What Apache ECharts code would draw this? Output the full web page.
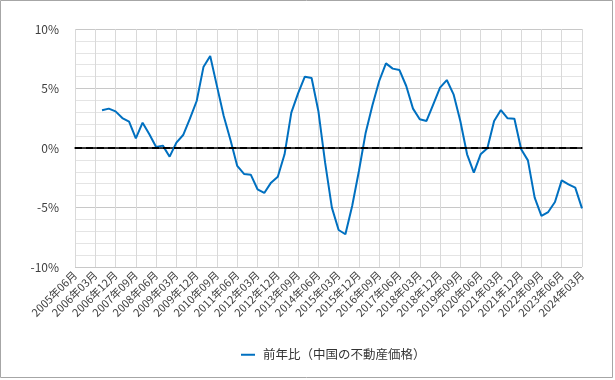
<!DOCTYPE html>
<html><head><meta charset="utf-8">
<script src="https://cdn.jsdelivr.net/npm/echarts@6/dist/echarts.min.js"></script>
<style>html,body{margin:0;padding:0;background:#fff}#c{width:615px;height:380px}</style>
</head><body><div id="c"></div>
<script>
const categories = [
"2005年06月","2005年09月","2005年12月","2006年03月","2006年06月","2006年09月","2006年12月",
"2007年03月","2007年06月","2007年09月","2007年12月","2008年03月","2008年06月","2008年09月","2008年12月",
"2009年03月","2009年06月","2009年09月","2009年12月","2010年03月","2010年06月","2010年09月","2010年12月",
"2011年03月","2011年06月","2011年09月","2011年12月","2012年03月","2012年06月","2012年09月","2012年12月",
"2013年03月","2013年06月","2013年09月","2013年12月","2014年03月","2014年06月","2014年09月","2014年12月",
"2015年03月","2015年06月","2015年09月","2015年12月","2016年03月","2016年06月","2016年09月","2016年12月",
"2017年03月","2017年06月","2017年09月","2017年12月","2018年03月","2018年06月","2018年09月","2018年12月",
"2019年03月","2019年06月","2019年09月","2019年12月","2020年03月","2020年06月","2020年09月","2020年12月",
"2021年03月","2021年06月","2021年09月","2021年12月","2022年03月","2022年06月","2022年09月","2022年12月",
"2023年03月","2023年06月","2023年09月","2023年12月","2024年03月"];
const seriesName = "前年比（中国の不動産価格）";
const yoy = [
null,null,null,null,3.17,3.31,3.08,
2.52,2.21,0.81,2.13,1.15,0.08,0.20,-0.73,
0.45,1.09,2.46,3.95,6.80,7.73,5.20,2.69,
0.67,-1.51,-2.18,-2.24,-3.47,-3.78,-2.91,-2.41,
-0.53,2.97,4.59,5.99,5.88,3.11,-1.23,-5.01,
-6.89,-7.25,-4.87,-1.93,1.29,3.59,5.63,7.11,
6.67,6.55,5.21,3.31,2.41,2.27,3.67,5.07,
5.71,4.51,2.27,-0.53,-2.07,-0.53,-0.03,2.27,
3.19,2.49,2.46,-0.11,-1.04,-4.17,-5.71,-5.38,
-4.54,-2.72,-3.05,-3.33,-5.07];
const yTicks = {min:-10, max:10, step:5};

const FONT = '"Noto Sans CJK JP","Noto Sans",sans-serif';
const chart = echarts.init(document.getElementById('c'), null, {renderer:'canvas'});
chart.setOption({
  animation:false,
  backgroundColor:'#fff',
  graphic:[{type:'rect',shape:{x:0.5,y:0.5,width:612,height:377},style:{fill:'none',stroke:'#a6a6a6',lineWidth:1},silent:true,z:-1}],
  grid:{left:75,right:33,top:29,bottom:113,containLabel:false},
  legend:{bottom:14,left:236,itemWidth:14,itemHeight:2,icon:'rect',
    textStyle:{fontFamily:FONT,fontSize:12.5,color:'#333',padding:[0,0,0,3]},data:[seriesName]},
  xAxis:{type:'category',data:categories,boundaryGap:false,
    axisLine:{lineStyle:{color:'#000',width:1.5}},axisTick:{show:false},
    axisLabel:{interval:2,rotate:45,fontFamily:FONT,fontSize:11,color:'#404040',margin:6},
    splitLine:{show:true,interval:2,lineStyle:{color:'#d9d9d9',width:1}}},
  yAxis:{type:'value',min:yTicks.min,max:yTicks.max,interval:yTicks.step,
    axisLine:{show:false},axisTick:{show:false},
    axisLabel:{formatter:'{value}%',fontFamily:FONT,fontSize:12,color:'#404040',margin:16},
    splitLine:{lineStyle:{color:'#c8c8c8',width:1}},
    minorTick:{show:false,splitNumber:5},
    minorSplitLine:{show:true,lineStyle:{color:'#e4e4e4',width:1}}},
  series:[{name:seriesName,type:'line',data:yoy,symbol:'none',connectNulls:false,
    lineStyle:{color:'#0070c0',width:2},itemStyle:{color:'#0070c0'},
    markLine:{silent:true,symbol:'none',label:{show:false},
      lineStyle:{color:'#000',width:2,type:[7,4]},data:[{yAxis:0}]}}]
});
</script></body></html>
